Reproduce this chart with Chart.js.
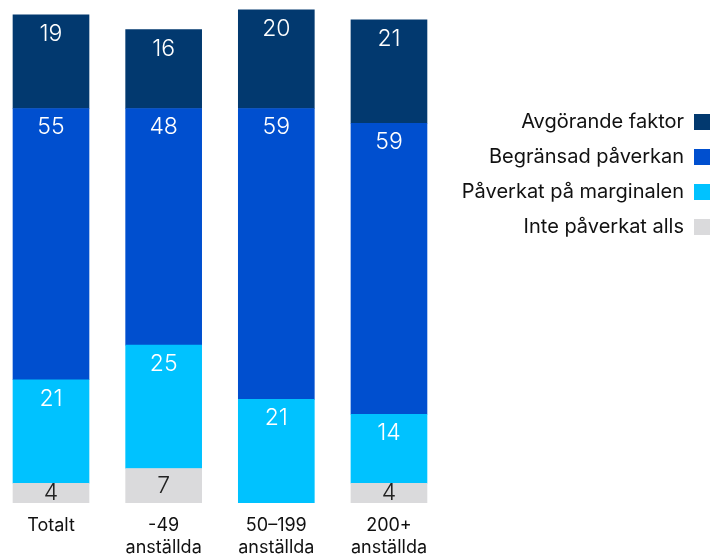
<!DOCTYPE html>
<html>
<head>
<meta charset="utf-8">
<script src="https://cdn.jsdelivr.net/npm/chart.js@4/dist/chart.umd.min.js"></script>
<style>
	html, body { margin: 0; padding: 0; background: #fff; }
	#wrap { width: 718px; height: 554px; position: relative; }
</style>
</head>
<body>
<div id="wrap"><canvas id="chart"></canvas></div>
<script>
// categories (x labels, multiline)
let categories = [["Totalt"], ["-49", "anställda"], ["50–199", "anställda"], ["200+", "anställda"]];

// series, bottom to top
let inteAlls = [4, 7, null, 4];
let marginalen = [21, 25, 21, 14];
let begransad = [55, 48, 59, 59];
let avgorande = [19, 16, 20, 21];

let seriesNames = ["Inte påverkat alls", "Påverkat på marginalen", "Begränsad påverkan", "Avgörande faktor"];
let seriesColors = ["#dadadc", "#00c2ff", "#004fcf", "#02396f"];
let seriesText = ["#222222", "#ffffff", "#ffffff", "#ffffff"];

let fontFam = "Inter, 'Noto Sans', sans-serif";

function pts(arr) {
	return arr.map(function (v, i) { return { x: i, y: v }; });
}

let valueLabels = {
	id: "valueLabels",
	afterDatasetsDraw: function (chart) {
		let ctx = chart.ctx;
		ctx.save();
		ctx.font = "300 23px " + fontFam;
		ctx.textAlign = "center";
		ctx.textBaseline = "middle";
		chart.data.datasets.forEach(function (ds, di) {
			let meta = chart.getDatasetMeta(di);
			meta.data.forEach(function (bar, i) {
				let v = ds.data[i].y;
				if (v == null || v === 0) return;
				let h = bar.base - bar.y;
				let y = bar.y + Math.min(19, h / 2);
				ctx.fillStyle = seriesText[di];
				ctx.fillText(String(v), bar.x, y);
			});
		});
		ctx.restore();
	},
};

let sideLegend = {
	id: "sideLegend",
	afterDraw: function (chart) {
		let ctx = chart.ctx;
		ctx.save();
		ctx.font = "20px " + fontFam;
		ctx.textAlign = "right";
		ctx.textBaseline = "middle";
		for (let k = 0; k < 4; k++) {
			let di = 3 - k;
			let y = 122 + k * 35;
			ctx.fillStyle = "#111";
			ctx.fillText(seriesNames[di], 684, y);
			ctx.fillStyle = seriesColors[di];
			ctx.fillRect(694, y - 8, 16, 16);
		}
		ctx.restore();
	},
};

let chart = new Chart(document.getElementById("chart"), {
	type: "bar",
	data: {
		datasets: seriesNames.map(function (name, i) {
			return {
				label: name,
				data: pts([inteAlls, marginalen, begransad, avgorande][i]),
				backgroundColor: seriesColors[i],
				borderWidth: 0,
				barThickness: 76,
			};
		}),
	},
	plugins: [valueLabels, sideLegend],
	options: {
		responsive: true,
		maintainAspectRatio: false,
		animation: false,
		layout: { padding: { left: 0, right: 272.7, top: 0, bottom: 0 } },
		plugins: {
			legend: { display: false },
			tooltip: { enabled: false },
		},
		scales: {
			x: {
				type: "linear",
				stacked: true,
				offset: false,
				min: -0.4527,
				max: 3.5,
				grid: { display: false, offset: false },
				border: { display: false },
				afterBuildTicks: function (scale) {
					scale.ticks = [0, 1, 2, 3].map(function (v) { return { value: v }; });
				},
				afterFit: function (scale) {
					scale.height = 51;
					scale.paddingLeft = 0;
					scale.paddingRight = 0;
				},
				ticks: {
					autoSkip: false,
					maxRotation: 0,
					padding: 4,
					color: "#111",
					font: { family: fontFam, size: 18, lineHeight: 1.22 },
					callback: function (v) { return categories[v] || ""; },
				},
			},
			y: {
				stacked: true,
				display: false,
				min: 0,
				max: 102,
			},
		},
	},
});
</script>
</body>
</html>
